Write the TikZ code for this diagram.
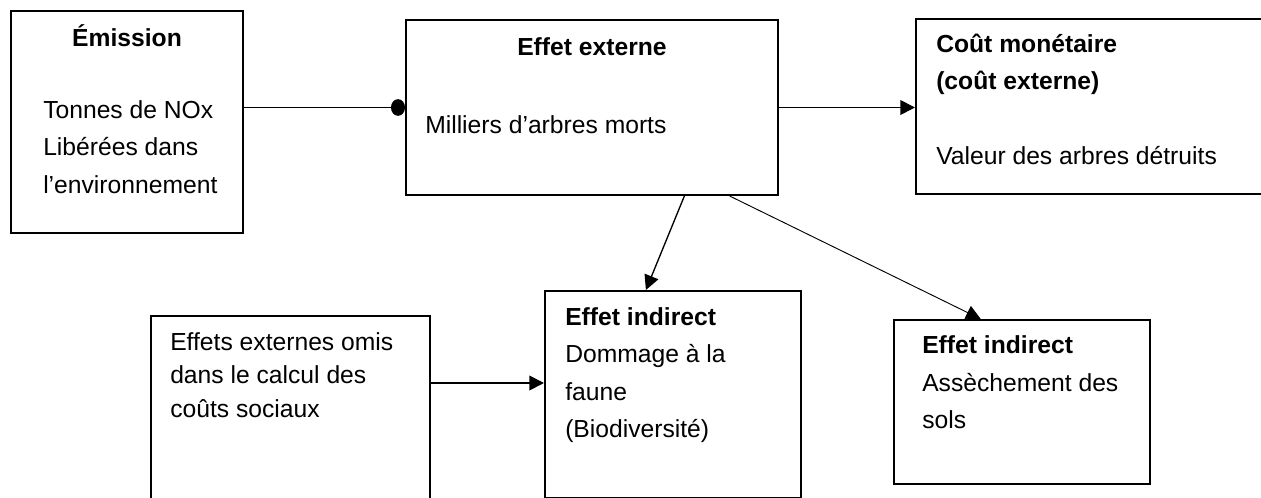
\documentclass[tikz,border=0pt]{standalone}
\usepackage{fontspec}
\setmainfont{Liberation Sans}
\usepackage{tikz}
\usetikzlibrary{arrows.meta, calc}
\tikzset{box/.style={rectangle,draw,line width=1.5pt,anchor=north west,inner sep=0pt},
         txt/.style={anchor=north west,align=left,inner sep=0pt,font=\fontsize{18.5}{28.2}\selectfont,execute at begin node=\strut},
         title/.style={anchor=base,inner sep=0pt,font=\fontsize{18.5}{28.2}\selectfont\bfseries},
         arrow/.style={-{Triangle[length=11pt,width=11pt]},line width=1.3pt},
         dotarrow/.style={-{Circle[length=10.5pt,width=12.5pt]},line width=1.3pt}}

\begin{document}
\begin{tikzpicture}[x=0.75pt,y=-0.75pt]
    \useasboundingbox (0,0) rectangle (1261,498);
    % Top row
    \node (emission) [box, minimum width=174pt, minimum height=166.5pt] at (10,10) {};
    \node (effext) [box, minimum width=279pt, minimum height=131.25pt] at (405,19) {};
    \node (cout) [box, minimum width=261pt, minimum height=131.25pt] at (915,18) {};
    % Bottom row
    \node (omis) [box, minimum width=209.25pt, minimum height=139.5pt] at (150,315) {};
    \node (faune) [box, minimum width=192pt, minimum height=155.25pt] at (544,290) {};
    \node (sols) [box, minimum width=192pt, minimum height=123pt] at (893,319) {};
    % Texts
    \node (emission-t) [title] at ($(emission.north)+(0,37)$) {Émission};
    \node (emission-b) [txt] at ($(emission.north west)+(33,90)$) {Tonnes de NOx\\Libérées dans\\l'environnement};
    \node (effext-t) [title] at ($(effext.north)+(0,37)$) {Effet externe};
    \node (effext-b) [txt] at ($(effext.north west)+(20,88.4)$) {Milliers d'arbres morts};
    \node (cout-b) [txt] at ($(cout.north west)+(21,15.5)$) {\textbf{Coût monétaire}\\\textbf{(coût externe)}\\[28.2pt]Valeur des arbres détruits};
    \node (omis-b) [txt, font=\fontsize{18.5}{25}\selectfont] at ($(omis.north west)+(20,17.5)$) {Effets externes omis\\dans le calcul des\\coûts sociaux};
    \node (faune-b) [txt] at ($(faune.north west)+(21,17)$) {\textbf{Effet indirect}\\Dommage à la\\faune\\(Biodiversité)};
    \node (sols-b) [txt] at ($(sols.north west)+(29,16.5)$) {\textbf{Effet indirect}\\Assèchement des\\sols};
    % Connectors
    \coordinate (omis-out) at ($(omis.north east)+(0,68)$);
    \draw[dotarrow] (emission.east |- effext.west) -- (effext.west);
    \draw[arrow] (effext.east) -- (effext.east -| cout.west);
    \draw[arrow, line width=1pt] ($(effext.south west)!0.747!(effext.south east)$) -- ($(faune.north west)!0.395!(faune.north east)$);
    \draw[arrow, line width=0.7pt] ($(effext.south west)!0.868!(effext.south east)$) -- ($(sols.north west)!0.34!(sols.north east)$);
    \draw[arrow] (omis-out) -- (omis-out -| faune.west);
\end{tikzpicture}
\end{document}
